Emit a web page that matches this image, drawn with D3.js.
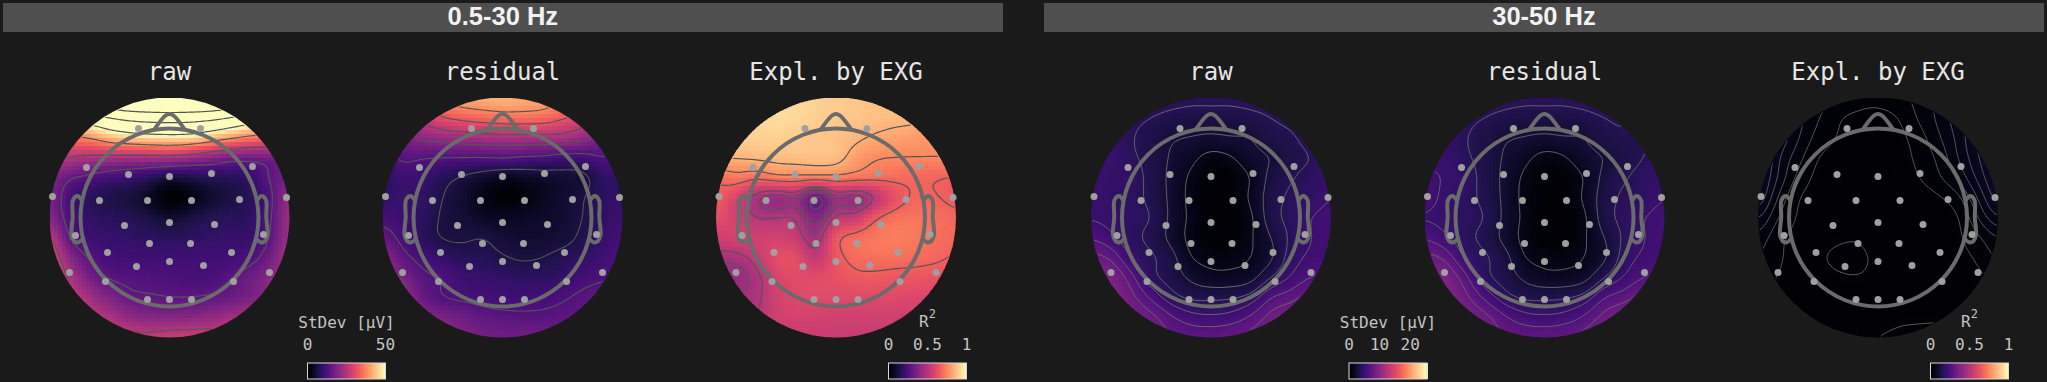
<!DOCTYPE html>
<html>
<head>
<meta charset="utf-8">
<script src="https://cdn.jsdelivr.net/npm/d3@7"></script>
<style>
  html, body { margin: 0; padding: 0; background: #1a1a1a; }
  svg { display: block; }
</style>
</head>
<body>
<div id="chart"></div>
<script>
// band headers
const bandLabels = ["0.5-30 Hz", "30-50 Hz"]
const panelTitles = ["raw", "residual", "Expl. by EXG", "raw", "residual", "Expl. by EXG"]

// sensor positions, in map units (sphere edge = 120)
const sensorX = [-31, 31, -83, -41, 0, 42, 83, -117, -70, -22, 22, 70, 117, -94, -45, 0, 45, 94, -20, 21, -62, 62, -33, 0, 34, -100, 100, -64, 64, -22, 0, 22]
const sensorY = [-89, -89, -50, -43, -41, -44, -51, -21, -17, -17, -17, -18, -20, 18, 8, 5, 7, 17, 26, 26, 35, 35, 49, 44, 48, 55, 55, 64, 64, 82, 82, 82]

// head outline, same units
const noseX = [-14.5, -4, 0, 4, 14.5]
const noseY = [-89, -102, -103.5, -102, -89]
const earX = [88, 92, 96.5, 96.8, 98, 95.5, 91.5, 87.5]
const earY = [-17.5, -21.5, -17.5, 0, 17.5, 23.5, 25, 22]

// colormap position x100 on a 13x13 grid (rows front to back)
const rawLow = [
  [175,175,175,180,185,187,188,187,185,180,175,175,175],
  [110,110,115,125,132,135,136,135,132,125,115,110,110],
  [70,72,76,85,90,93,94,93,86,78,72,70,70],
  [50,50,47,46,45,45,46,42,38,33,32,32,35],
  [38,29,25,21,19,15,10,12,15,15,17,29,34],
  [36,22,16,13,11,6,0,3,8,12,16,25,43],
  [39,23,18,16,15,12,9,12,15,16,17,26,45],
  [53,27,20,19,18,17,16,17,18,19,19,28,45],
  [61,39,27,22,21,21,21,21,21,21,24,33,47],
  [65,48,34,27,26,25,24,23,23,27,33,39,49],
  [69,55,45,37,30,29,28,28,29,31,35,41,53],
  [71,61,53,47,41,38,38,39,41,45,47,51,58],
  [72,64,60,56,54,54,56,56,56,56,56,56,58]
]
const residualLow = [
  [76,76,76,78,82,84,85,84,82,78,76,76,76],
  [50,52,55,62,66,68,70,70,69,64,58,54,50],
  [28,34,40,42,44,45,46,46,46,46,42,34,30],
  [20,27,25.5,25,25,25,26,24,23,21,21,25,22],
  [16,20,19,15,11.5,8,5,6,8,9,10,17,18],
  [18,19,18,12.5,9,4,1,2,6,9,12,17,18],
  [22,20,17,11.5,10,7,6,7,8,9,12.5,17,20],
  [30,22,16,12,11.5,12.5,10,9,9,10,14,19,22],
  [40,28,22,18,15.5,15,13,11.5,12.5,15,17,21,24],
  [46,36,27,25,20,19,18,17,17,18,22,24,26],
  [52,44,30,25,23,22,21,21,22,24,27,29,30],
  [56,48,40,36,33,29,27.5,27,27,28,30,32,34],
  [58,52,46,42,36,34,33,33,33,33,34,36,38]
]
const explLow = [
  [93,93,93,93,92,90,89,88,87,87,86,85,84],
  [92,92,92,93,92,90,89,88,87,86,85,81,80],
  [90,90,90,90,89,88,87,85,82,80,79,78,77],
  [84,84,85,86,87,87,87,79,75.5,75,75,75,75],
  [68,72,69,73,73,73,73,72,70,69,68,67,66],
  [66,58,46,40,44,26,44,40,50,62,68,67,65],
  [62,56,50,50,50,37,52,54,66,71,71,70,68],
  [55,58,56,57,54,45,65,70,72,73,72,70,68],
  [47,47,53,61,62,52,64,69,70,70,69,68,66],
  [42,42,47,58,60,61,62,65,65,64,64,63,62],
  [48,46,48,56,60,60,60,60,60,60,59,58,56],
  [52,50,50,56,57,57,56,56,56,56,55,55,54],
  [54,54,54,54,54,54,54,54,54,54,54,54,54]
]
const rawHigh = [
  [21,21,20,19,18,17,17,17,18,19,20,21,21],
  [21,19,17,15,13,12,12,12,13,15,17,20,21],
  [21,19,15.5,12.5,10.5,10,9.5,10,10,13,14,18,21],
  [21,19,16,13,9.5,6.5,3,4.5,8.5,10,13,15,20],
  [19.5,18,18,13,9,4,1.5,1.5,5.2,11.5,14.5,17,19],
  [20.5,17.5,17,13.5,9,3.5,1,1,6,12.5,16,17,20],
  [19.5,18.5,17,15,9,4,1,1,4,13,16.5,20,22],
  [24.5,21,16.5,13.5,8.5,3.5,1,1,4.5,10,16,20,21],
  [32,29,19.5,16,12,5,3.5,3.5,5,9,17.5,21,22],
  [36,36,27,16.5,13,9,6.5,6.5,8,15,20.5,25,27],
  [37,38,32,24,17,14,14,14.5,17,25,28,33,32],
  [35,36,35,32,26,22,21,22,26,32,35,35,32],
  [34,34,34,34,30,29,29,30,32,35,35,33,30]
]
const residualHigh = [
  [21,21,20,19,18,17,17,17,18,19,17,15,15],
  [21,19,17,15,13,12,12,12,13,15,16,14,14],
  [21,19,15.5,12.5,10.5,10,9.5,10,10,13,14,14,14],
  [17,19,16,13,9.5,6.5,3,4.5,8.5,10,13,15,20],
  [22,19.5,18,13,9,4,1.5,1.5,5.2,11.5,14.5,17,19],
  [23,18.5,17,13.5,9,3.5,1,1,6,12.5,16,17,20],
  [19.5,18.5,17,15,9,4,1,1,4,13,16.5,20,22],
  [24.5,21,16.5,13.5,8.5,3.5,1,1,4.5,10,16,20,21],
  [32,29,19.5,16,12,5,3.5,3.5,5,9,17.5,21,22],
  [36,36,27,16.5,13,9,6.5,6.5,8,15,20.5,25,27],
  [37,38,32,24,17,14,14,14.5,17,25,28,33,32],
  [35,36,35,32,26,22,21,22,26,32,35,35,32],
  [34,34,34,34,30,29,29,30,32,35,35,33,30]
]
const explHigh = [
  [4,3.5,3,2.5,1.8,1.4,1.3,1.7,2.3,3.2,4.5,5,5],
  [6,5,3.4,2.1,1.1,.8,.7,.98,2.1,3.2,4.6,5.5,6],
  [7,5,3.1,1.6,.95,.7,.6,.7,1.5,2.8,4.3,6.2,7],
  [7,4.2,2.4,1,.7,.5,.4,.5,1.25,2.2,4,5.9,7.5],
  [6.5,3.9,1.7,.75,.5,.4,.3,.4,.95,1.8,3.2,5.3,7.2],
  [6,2.9,1.05,.7,.4,.3,.3,.3,.5,.85,1.7,4.1,6.6],
  [4.2,2,.9,.6,.4,.3,.3,.3,.4,.6,.9,3,5],
  [2.7,1.25,.75,.6,.8,.9,.45,.4,.4,.5,.8,1.8,3],
  [2,1.15,.7,.85,1.25,1.25,.75,.45,.4,.5,.7,1.15,2.2],
  [1.5,.95,.6,.6,.85,.95,.7,.45,.4,.4,.5,.8,1.2],
  [1,.6,.4,.35,.4,.4,.4,.4,.4,.4,.4,.5,.7],
  [.7,.5,.4,.35,.35,.35,.4,.7,.7,.8,.7,.6,.5],
  [.5,.4,.4,.4,.5,.7,1.05,1.3,1.6,1.5,.9,.6,.5]
]

// contour levels, same colormap x100 units
const levelsRawLow = [28, 50, 75, 100, 125, 150]
const levelsResidualLow = [12.5, 25, 37.5, 50, 62.5, 75]
const levelsExplLow = [32, 41, 45, 50, 66.7, 75, 83.3]
const levelsRawHigh = [5, 10, 15, 20, 25, 30]
const levelsExplHigh = [1, 2, 3, 4, 5, 6, 7, 8]

// colorbars
const barLabels = ["StDev [µV]", "R", "StDev [µV]", "R"]
const barMax = [50, 1, 25.5, 1]
const barTicks = [[0, 50], [0, 0.5, 1], [0, 10, 20], [0, 0.5, 1]]
const barLeft = [307.5, 888.5, 1349, 1930.5]

const width = 2047
const height = 382
const mapR = 120
const mapY = 217.5
const mono = "'DejaVu Sans Mono', monospace"

const panels = [
  { cx: 169.5, grid: rawLow, levels: levelsRawLow, line: "#555", lw: 1.2 },
  { cx: 502.5, grid: residualLow, levels: levelsResidualLow, line: "#555", lw: 1.1 },
  { cx: 836, grid: explLow, levels: levelsExplLow, line: "#555", lw: 1.2 },
  { cx: 1211, grid: rawHigh, levels: levelsRawHigh, line: "#666", lw: 1 },
  { cx: 1544.5, grid: residualHigh, levels: levelsRawHigh, line: "#666", lw: 1 },
  { cx: 1878, grid: explHigh, levels: levelsExplHigh, line: "#6e6e6e", lw: 0.8 }
]

const svg = d3.select("#chart").append("svg")
  .attr("width", width)
  .attr("height", height)
  .style("background", "#1a1a1a")

// header bars
const bars = [[3, 1003, 502.8], [1044, 2044, 1544]]
bars.forEach((b, i) => {
  svg.append("rect")
    .attr("x", b[0]).attr("y", 3)
    .attr("width", b[1] - b[0]).attr("height", 29)
    .attr("fill", "#4f4f4f")
  svg.append("text")
    .attr("x", b[2]).attr("y", 25)
    .attr("text-anchor", "middle")
    .attr("font-family", "'Liberation Sans', Arial, sans-serif")
    .attr("font-weight", 700)
    .attr("font-size", 25.5)
    .attr("fill", "#f2f2f2")
    .text(bandLabels[i])
})

const color = d3.scaleSequential(d3.interpolateMagma).domain([0, 100]).clamp(true)

// catmull-rom lookup into a row/col grid, x and y in grid steps
const cubic = (a, b, c, d, t) =>
  b + 0.5 * t * (c - a + t * (2 * a - 5 * b + 4 * c - d + t * (3 * (b - c) + d - a)))

function sampler(grid) {
  const n = grid.length
  const at = (r, c) => grid[Math.max(0, Math.min(n - 1, r))][Math.max(0, Math.min(n - 1, c))]
  return (x, y) => {
    const c0 = Math.min(n - 2, Math.floor(x))
    const r0 = Math.min(n - 2, Math.floor(y))
    const tx = x - c0
    const ty = y - r0
    const rows = [-1, 0, 1, 2].map(dr =>
      cubic(at(r0 + dr, c0 - 1), at(r0 + dr, c0), at(r0 + dr, c0 + 1), at(r0 + dr, c0 + 2), tx))
    return cubic(rows[0], rows[1], rows[2], rows[3], ty)
  }
}

const cellCount = 60
const fine = 121

panels.forEach((p, i) => {
  const x = d3.scaleLinear().domain([-mapR, mapR]).range([p.cx - mapR, p.cx + mapR])
  const y = d3.scaleLinear().domain([-mapR, mapR]).range([mapY - mapR, mapY + mapR])
  const f = sampler(p.grid)

  const clipId = `clip-${i}`
  svg.append("clipPath").attr("id", clipId)
    .append("circle").attr("cx", p.cx).attr("cy", mapY).attr("r", mapR)

  svg.append("text")
    .attr("x", p.cx).attr("y", 80)
    .attr("text-anchor", "middle")
    .attr("font-family", mono)
    .attr("font-size", 24)
    .attr("fill", "#e6e6e6")
    .text(panelTitles[i])

  // finer sampling of the grid, lightly blurred to take out the grid-scale wiggle
  const fineIdx = d3.scaleLinear().domain([0, fine - 1]).range([0, p.grid.length - 1])
  const values = new Float64Array(fine * fine)
  for (let r = 0; r < fine; r++) {
    for (let c = 0; c < fine; c++) values[r * fine + c] = f(fineIdx(c), fineIdx(r))
  }
  if (d3.blur2) d3.blur2({ data: values, width: fine, height: fine }, 2)

  // heatmap cells
  const step = 2 * mapR / cellCount
  const fineOf = d3.scaleLinear().domain([-mapR, mapR]).range([0, fine - 1])
  const cells = d3.range(cellCount * cellCount).map(k => {
    const u = -mapR + (k % cellCount) * step
    const v = -mapR + Math.floor(k / cellCount) * step
    const c = Math.round(fineOf(u + step / 2))
    const r = Math.round(fineOf(v + step / 2))
    return { u, v, value: values[r * fine + c] }
  })
  svg.append("g")
    .attr("clip-path", `url(#${clipId})`)
    .attr("shape-rendering", "crispEdges")
    .selectAll("rect")
    .data(cells.filter(d => Math.hypot(d.u + step / 2, d.v + step / 2) < mapR + step))
    .join("rect")
    .attr("x", d => x(d.u))
    .attr("y", d => y(d.v))
    .attr("width", step + 0.5)
    .attr("height", step + 0.5)
    .attr("fill", d => color(d.value))

  // contours
  const contours = d3.contours().size([fine, fine]).thresholds(p.levels)(Array.from(values))
  const toMap = d3.scaleLinear().domain([0.5, fine - 0.5]).range([-mapR, mapR])
  const path = d3.geoPath(d3.geoTransform({
    point(a, b) { this.stream.point(x(toMap(a)), y(toMap(b))) }
  }))
  const lineClip = `line-clip-${i}`
  svg.append("clipPath").attr("id", lineClip)
    .append("circle").attr("cx", p.cx).attr("cy", mapY).attr("r", mapR - 1)
  svg.append("g")
    .attr("clip-path", `url(#${lineClip})`)
    .selectAll("path")
    .data(contours)
    .join("path")
    .attr("d", path)
    .attr("fill", "none")
    .attr("stroke", p.line)
    .attr("stroke-width", p.lw)

  // head, nose, ears
  const head = svg.append("g")
    .attr("fill", "none")
    .attr("stroke", "#6b6b6b")
    .attr("stroke-width", 4)
    .attr("stroke-linejoin", "round")
    .attr("stroke-linecap", "round")
  head.append("circle").attr("cx", p.cx).attr("cy", mapY).attr("r", 89)
  const outline = d3.line().curve(d3.curveCatmullRom.alpha(0.5))
  head.append("path")
    .attr("d", outline(noseX.map((d, k) => [x(d), y(noseY[k])])))
  ;[1, -1].forEach(side => {
    head.append("path")
      .attr("d", outline(earX.map((d, k) => [x(side * d), y(earY[k])])))
  })

  // sensors
  svg.append("g")
    .selectAll("circle")
    .data(sensorX.map((d, k) => [d, sensorY[k]]))
    .join("circle")
    .attr("cx", d => x(d[0]))
    .attr("cy", d => y(d[1]))
    .attr("r", 3.5)
    .attr("fill", "#a0a0a0")
})

// colorbars
barLabels.forEach((label, i) => {
  const barWidth = 78
  const scale = d3.scaleLinear().domain([0, barMax[i]]).range([barLeft[i], barLeft[i] + barWidth])
  const g = svg.append("g")
    .attr("font-family", mono)
    .attr("font-size", 16)
    .attr("fill", "#c4c4c4")

  const center = barLeft[i] + barWidth / 2
  const title = g.append("text")
    .attr("x", center)
    .attr("y", label === "R" ? 326.5 : 328)
    .attr("text-anchor", "middle")
    .text(label)
  if (label === "R") {
    title.append("tspan").attr("dy", -9).attr("font-size", 12).text("2")
  }

  g.selectAll(".tick")
    .data(barTicks[i])
    .join("text")
    .attr("class", "tick")
    .attr("x", d => scale(d))
    .attr("y", 350)
    .attr("text-anchor", "middle")
    .text(d => d)

  g.append("g")
    .attr("shape-rendering", "crispEdges")
    .selectAll("rect")
    .data(d3.range(barWidth))
    .join("rect")
    .attr("x", d => barLeft[i] + d)
    .attr("y", 363)
    .attr("width", 1.5)
    .attr("height", 16)
    .attr("fill", d => d3.interpolateMagma(d / (barWidth - 1)))

  g.append("rect")
    .attr("x", barLeft[i]).attr("y", 363)
    .attr("width", barWidth).attr("height", 16)
    .attr("fill", "none")
    .attr("stroke", "#d8d8d8")
    .attr("stroke-width", 1)
})
</script>
</body>
</html>
